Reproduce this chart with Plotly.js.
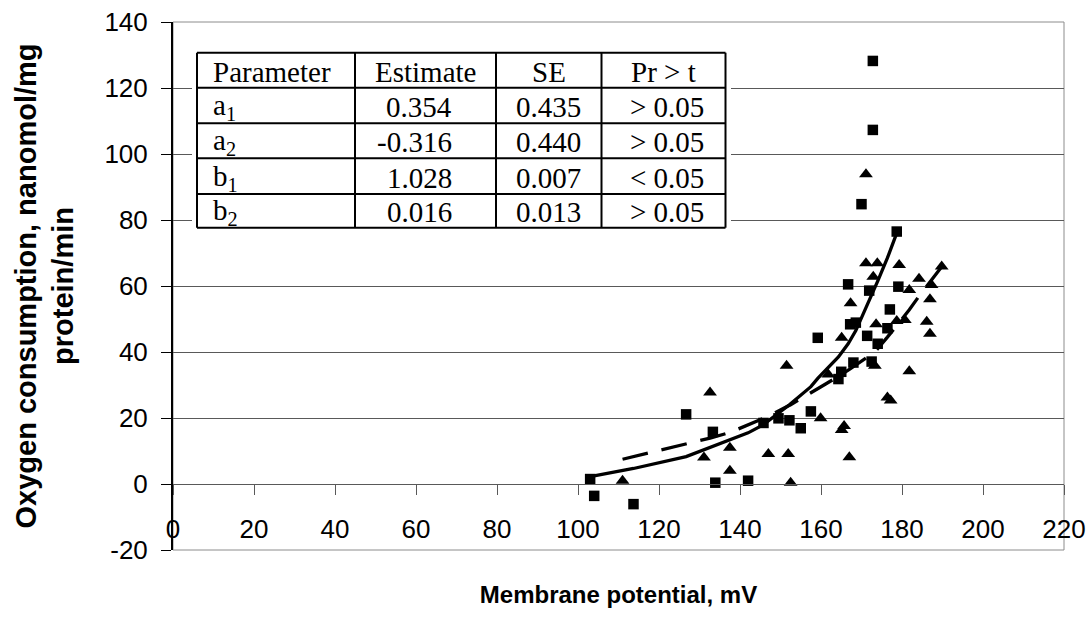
<!DOCTYPE html>
<html><head><meta charset="utf-8">
<script src="https://cdn.plot.ly/plotly-3.0.1.min.js"></script>
<style>html,body{margin:0;padding:0;background:#fff;}#chart{width:1089px;height:618px;}</style>
</head><body><div id="chart"></div>
<script>
// ---- data ----
const squareX = [103, 104, 113.7, 126.7, 133.3, 133.9, 142, 145.8, 149.5, 152.2, 155, 157.5, 159.2, 164.3, 165, 166.7, 167.2, 168.6, 168, 170, 171.4, 171.9, 172.5, 172.8, 172.8, 174, 176.4, 177, 178.7, 179.1];
const squareY = [1.5, -3.6, -6.1, 21.1, 15.8, 0.4, 1.0, 18.5, 19.9, 19.3, 16.9, 22.0, 44.3, 31.8, 34.0, 60.5, 48.4, 48.9, 36.8, 84.8, 44.9, 58.6, 37.1, 128.2, 107.3, 42.5, 47.2, 52.9, 76.5, 59.8];
const triangleX = [111, 131.1, 132.6, 137.5, 137.5, 147, 151.5, 151.9, 152.5, 159.9, 161.8, 165.1, 165.1, 165.7, 167, 167.3, 171.1, 171.1, 172.9, 173.3, 173.6, 173.9, 176.4, 177.2, 178.7, 179.3, 180.7, 181.8, 181.8, 184.2, 186.1, 186.9, 186.9, 187.3, 189.8];
const triangleY = [1.0, 8.0, 27.7, 11.0, 4.0, 9.1, 35.8, 9.1, 0.4, 19.9, 33.2, 44.3, 16.4, 17.6, 8.1, 54.8, 66.9, 93.9, 62.8, 35.8, 48.4, 66.9, 26.2, 25.3, 49.4, 66.4, 49.7, 58.8, 34.2, 62.2, 49.2, 56.0, 45.5, 60.3, 65.9];
const fitSquareX = [103, 113.7, 126.7, 133.3, 142, 145.8, 152.2, 157.5, 159.2, 164.3, 166.7, 168.6, 171.4, 174, 176.4, 178.7];
const fitSquareY = [2.2, 4.7, 8.3, 11.3, 15.5, 18.0, 24.0, 29.5, 32.0, 38.5, 42.5, 46.5, 54.0, 61.5, 68.5, 76.0];
const fitTriangleX = [111, 131.1, 132.6, 137.5, 147, 151.5, 152.5, 159.9, 161.8, 165.1, 167, 171.1, 173.3, 176.4, 178.7, 181.8, 184.2, 186.9, 189.8];
const fitTriangleY = [7.5, 13.3, 13.9, 15.6, 20.5, 23.4, 24.0, 29.4, 30.7, 33.2, 34.7, 38.0, 40.0, 44.5, 48.0, 52.8, 56.9, 61.3, 65.8];
const xTickVals = [0, 20, 40, 60, 80, 100, 120, 140, 160, 180, 200, 220];
const yTickVals = [-20, 0, 20, 40, 60, 80, 100, 120, 140];
const tableHeader = ['Parameter', 'Estimate', 'SE', 'Pr &gt; t'];
const tableParams = ['a<sub>1</sub>', 'a<sub>2</sub>', 'b<sub>1</sub>', 'b<sub>2</sub>'];
const tableEstimates = ['0.354', '-0.316', '1.028', '0.016'];
const tableSE = ['0.435', '0.440', '0.007', '0.013'];
const tablePr = ['&gt; 0.05', '&gt; 0.05', '&lt; 0.05', '&gt; 0.05'];

// ---- layout geometry (pixels) ----
const L = 173, R = 1064, T = 22, B = 550;
const px2x = p => (p - L) / (R - L);
const px2y = p => (B - p) / (B - T);
const colEdges = [197, 355, 496, 601.5, 725.5];
const rowEdges = [52.7, 87.7, 123.3, 158.3, 194, 227.7];

const sans = 'Liberation Sans, Arial, sans-serif';
const serif = 'Liberation Serif, Times New Roman, serif';

const traces = [
  {x: squareX, y: squareY, type: 'scatter', mode: 'markers', marker: {symbol: 'square', size: 10.5, color: '#000'}, hoverinfo: 'skip'},
  {x: triangleX, y: triangleY, type: 'scatter', mode: 'markers', marker: {symbol: 'triangle-up', size: 12, color: '#000'}, hoverinfo: 'skip'},
  {x: fitSquareX, y: fitSquareY, type: 'scatter', mode: 'lines', line: {color: '#000', width: 3.3}, hoverinfo: 'skip'},
  {x: fitTriangleX, y: fitTriangleY, type: 'scatter', mode: 'lines', line: {color: '#000', width: 3.3, dash: '26px,14px'}, hoverinfo: 'skip'}
];

const shapes = [];
const annotations = [];
// plot-area border
shapes.push({type: 'rect', xref: 'paper', yref: 'paper', x0: 0, x1: 1, y0: 0, y1: 1, line: {color: '#8c8c8c', width: 1}, layer: 'below'});
// table background
shapes.push({type: 'rect', xref: 'paper', yref: 'paper', x0: px2x(192), x1: px2x(731), y0: px2y(233), y1: px2y(47), fillcolor: '#fff', line: {width: 0}, layer: 'above'});
// table lines
colEdges.forEach(c => shapes.push({type: 'line', xref: 'paper', yref: 'paper', x0: px2x(c), x1: px2x(c), y0: px2y(rowEdges[0]), y1: px2y(rowEdges[rowEdges.length - 1]), line: {color: '#000', width: 2}, layer: 'above'}));
rowEdges.forEach(r => shapes.push({type: 'line', xref: 'paper', yref: 'paper', x0: px2x(colEdges[0]), x1: px2x(colEdges[colEdges.length - 1]), y0: px2y(r), y1: px2y(r), line: {color: '#000', width: 2}, layer: 'above'}));

const cellFont = {family: serif, size: 29, color: '#000'};
function cell(text, px, rowIdx, anchor) {
  const yc = (rowEdges[rowIdx] + rowEdges[rowIdx + 1]) / 2 + 1.5;
  annotations.push({xref: 'paper', yref: 'paper', x: px2x(px), y: px2y(yc), text: text, showarrow: false, xanchor: anchor, yanchor: 'middle', font: cellFont});
}
const colCenter = i => (colEdges[i] + colEdges[i + 1]) / 2;
cell(tableHeader[0], 211, 0, 'left');
cell(tableHeader[1], colCenter(1), 0, 'center');
cell(tableHeader[2], colCenter(2), 0, 'center');
cell(tableHeader[3], colCenter(3), 0, 'center');
for (let i = 0; i < 4; i++) {
  cell(tableParams[i], 211, i + 1, 'left');
  cell(tableEstimates[i], 454, i + 1, 'right');
  cell(tableSE[i], colCenter(2), i + 1, 'center');
  cell(tablePr[i], colCenter(3) + 3, i + 1, 'center');
}

const layout = {
  width: 1089, height: 618,
  margin: {l: L, r: 1089 - R, t: T, b: 618 - B, pad: 0},
  paper_bgcolor: '#fff', plot_bgcolor: '#fff',
  showlegend: false,
  xaxis: {
    range: [0, 220], tickvals: xTickVals, ticktext: xTickVals.map(String),
    anchor: 'free', position: 0.125,
    showgrid: false, zeroline: false,
    showline: true, linecolor: '#595959', linewidth: 1,
    ticks: 'outside', ticklen: 10, tickcolor: '#595959', tickwidth: 1,
    ticklabelstandoff: 12,
    tickfont: {family: sans, size: 26, color: '#000'},
    title: {text: 'Membrane potential, mV', font: {family: sans, size: 24, color: '#000', weight: 'bold'}, standoff: 42},
    fixedrange: true
  },
  yaxis: {
    range: [-20, 140], tickvals: yTickVals, ticktext: yTickVals.map(String),
    showgrid: true, gridcolor: '#595959', gridwidth: 1,
    zeroline: false,
    showline: true, linecolor: '#000', linewidth: 2,
    ticks: 'outside', ticklen: 10, tickcolor: '#000', tickwidth: 1,
    ticklabelstandoff: 8,
    tickfont: {family: sans, size: 26, color: '#000'},
    title: {text: 'Oxygen consumption, nanomol/mg<br>protein/min', font: {family: sans, size: 29, color: '#000', weight: 'bold'}, standoff: 22},
    fixedrange: true
  },
  shapes: shapes,
  annotations: annotations
};

Plotly.newPlot('chart', traces, layout, {displayModeBar: false, staticPlot: true});
</script>
</body></html>
